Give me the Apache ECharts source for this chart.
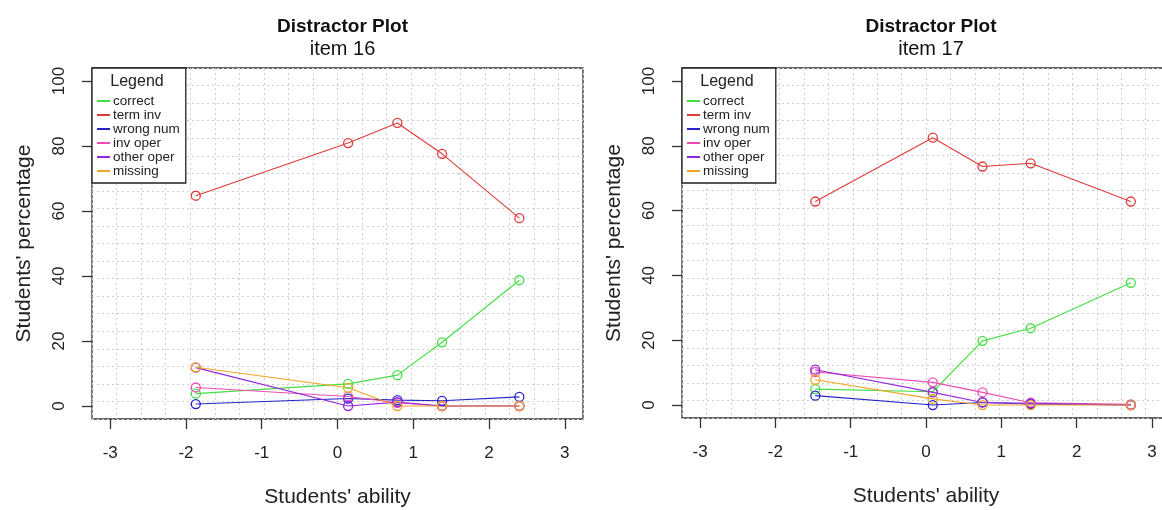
<!DOCTYPE html>
<html>
<head>
<meta charset="utf-8">
<script src="https://cdn.jsdelivr.net/npm/echarts@6/dist/echarts.min.js"></script>
<style>
html,body{margin:0;padding:0;background:#fff;}
#chart{width:1162px;height:510px;}
</style>
</head>
<body>
<div id="chart"></div>
<script>
// ---- data ----
const categories = ['correct', 'term inv', 'wrong num', 'inv oper', 'other oper', 'missing'];
const xTicks = [-3, -2, -1, 0, 1, 2, 3];
const yTicks = [0, 20, 40, 60, 80, 100];

const titles = ['Distractor Plot', 'Distractor Plot'];
const subtitles = ['item 16', 'item 17'];

const ability16 = [-1.87, 0.14, 0.79, 1.38, 2.40];
const correct16 = [3.8, 6.8, 9.5, 19.6, 38.7];
const termInv16 = [64.7, 80.9, 87.1, 77.6, 57.8];
const wrongNum16 = [0.6, 2.3, 1.8, 1.6, 2.8];
const invOper16 = [5.7, 2.9, 1.0, 0, 0];
const otherOper16 = [11.8, 0, 1.2, 0, 0];
const missing16 = [11.9, 5.6, 0, 0, 0];

const ability17 = [-1.47, 0.09, 0.75, 1.39, 2.72];
const correct17 = [4.9, 4.1, 19.8, 23.7, 37.7];
const termInv17 = [62.8, 82.5, 73.6, 74.6, 62.8];
const wrongNum17 = [2.9, 0, 0.8, 0.3, 0];
const invOper17 = [10.2, 7.0, 3.9, 0.7, 0.2];
const otherOper17 = [10.9, 3.9, 0.8, 0.5, 0];
const missing17 = [7.8, 1.9, 0, 0, 0];

// ---- styling ----
const colors = ['#44de44', '#e03a3a', '#2424c8', '#ee4cb4', '#9426dc', '#f0a428'];
const FONT = '"Liberation Sans", Arial, sans-serif';

const panels = [
  { ability: ability16, values: [correct16, termInv16, wrongNum16, invOper16, otherOper16, missing16],
    grid: { left: 92, top: 68, width: 491, height: 351 } },
  { ability: ability17, values: [correct17, termInv17, wrongNum17, invOper17, otherOper17, missing17],
    grid: { left: 682, top: 68, width: 488, height: 350 } }
];

const option = {
  backgroundColor: '#fff',
  animation: false,
  textStyle: { fontFamily: FONT },
  title: [], grid: [], xAxis: [], yAxis: [], legend: [], series: [], graphic: []
};

panels.forEach((p, i) => {
  const g = p.grid;
  const cx = g.left + g.width / 2;
  option.title.push({
    text: titles[i], subtext: subtitles[i],
    left: cx, top: 12, textAlign: 'center', itemGap: 3,
    textStyle: { fontSize: 19, fontWeight: 'bold', color: '#111', fontFamily: FONT },
    subtextStyle: { fontSize: 20, color: '#111', fontFamily: FONT }
  });
  option.grid.push({
    left: g.left, top: g.top, width: g.width, height: g.height,
    containLabel: false, outerBoundsMode: 'none',
    show: true, borderColor: '#333', borderWidth: 1.3, backgroundColor: '#fff'
  });
  // main axes
  option.xAxis.push({
    gridIndex: i, type: 'value', min: -3.24, max: 3.24,
    name: "Students' ability", nameLocation: 'middle', nameGap: 68,
    nameTextStyle: { fontSize: 21, color: '#222', fontFamily: FONT },
    axisLine: { show: false, onZero: false },
    axisTick: { show: true, length: 10, customValues: xTicks, lineStyle: { color: '#333', width: 1.3 } },
    axisLabel: { customValues: xTicks, fontSize: 17, color: '#222', margin: 26, fontFamily: FONT },
    splitLine: { show: false }
  });
  option.yAxis.push({
    gridIndex: i, type: 'value', min: -4, max: 104,
    name: "Students' percentage", nameLocation: 'middle', nameGap: 57,
    nameTextStyle: { fontSize: 21, color: '#222', fontFamily: FONT },
    axisLine: { show: false, onZero: false },
    axisTick: { show: true, length: 10, customValues: yTicks, lineStyle: { color: '#333', width: 1.3 } },
    axisLabel: { customValues: yTicks, rotate: 90, fontSize: 17, color: '#222', margin: 24, fontFamily: FONT },
    splitLine: { show: false }
  });
  // hidden axes used only for the 20x20 dotted reference grid
  option.xAxis.push({
    gridIndex: i, type: 'value', min: -3.24, max: 3.24, interval: 0.324,
    axisLine: { show: false }, axisTick: { show: false }, axisLabel: { show: false },
    splitLine: { show: true, lineStyle: { color: '#cfcfcf', type: [2, 3], width: 1 } }
  });
  option.yAxis.push({
    gridIndex: i, type: 'value', min: -4, max: 104, interval: 5.4,
    axisLine: { show: false }, axisTick: { show: false }, axisLabel: { show: false },
    splitLine: { show: true, lineStyle: { color: '#cfcfcf', type: [2, 3], width: 1 } }
  });
  option.legend.push({
    left: g.left, top: g.top, orient: 'vertical',
    padding: [26, 6, 5, 5], itemGap: 0,
    itemWidth: 13, itemHeight: 2, icon: 'rect',
    borderColor: '#222', borderWidth: 1.3, backgroundColor: '#fff',
    selectedMode: false,
    textStyle: { fontSize: 13.5, color: '#222', lineHeight: 14, fontFamily: FONT, padding: [0, 0, 0, -2] },
    data: categories.map((c, k) => ({ name: c, itemStyle: { color: colors[k], borderWidth: 0 } }))
  });
  option.graphic.push({
    type: 'text', x: g.left + 45, y: g.top + 14, z: 100,
    style: { text: 'Legend', fontSize: 16, fill: '#222', align: 'center', verticalAlign: 'middle', fontFamily: FONT }
  });
  categories.forEach((c, k) => {
    option.series.push({
      name: c, type: 'line', xAxisIndex: i * 2, yAxisIndex: i * 2,
      symbol: 'circle', symbolSize: 9,
      itemStyle: { color: 'rgba(0,0,0,0)', borderColor: colors[k], borderWidth: 1.3 },
      lineStyle: { color: colors[k], width: 1.1 },
      emphasis: { disabled: true },
      data: p.ability.map((x, j) => [x, p.values[k][j]])
    });
  });
});

const chart = echarts.init(document.getElementById('chart'), null, { renderer: 'canvas' });
chart.setOption(option);
</script>
</body>
</html>
